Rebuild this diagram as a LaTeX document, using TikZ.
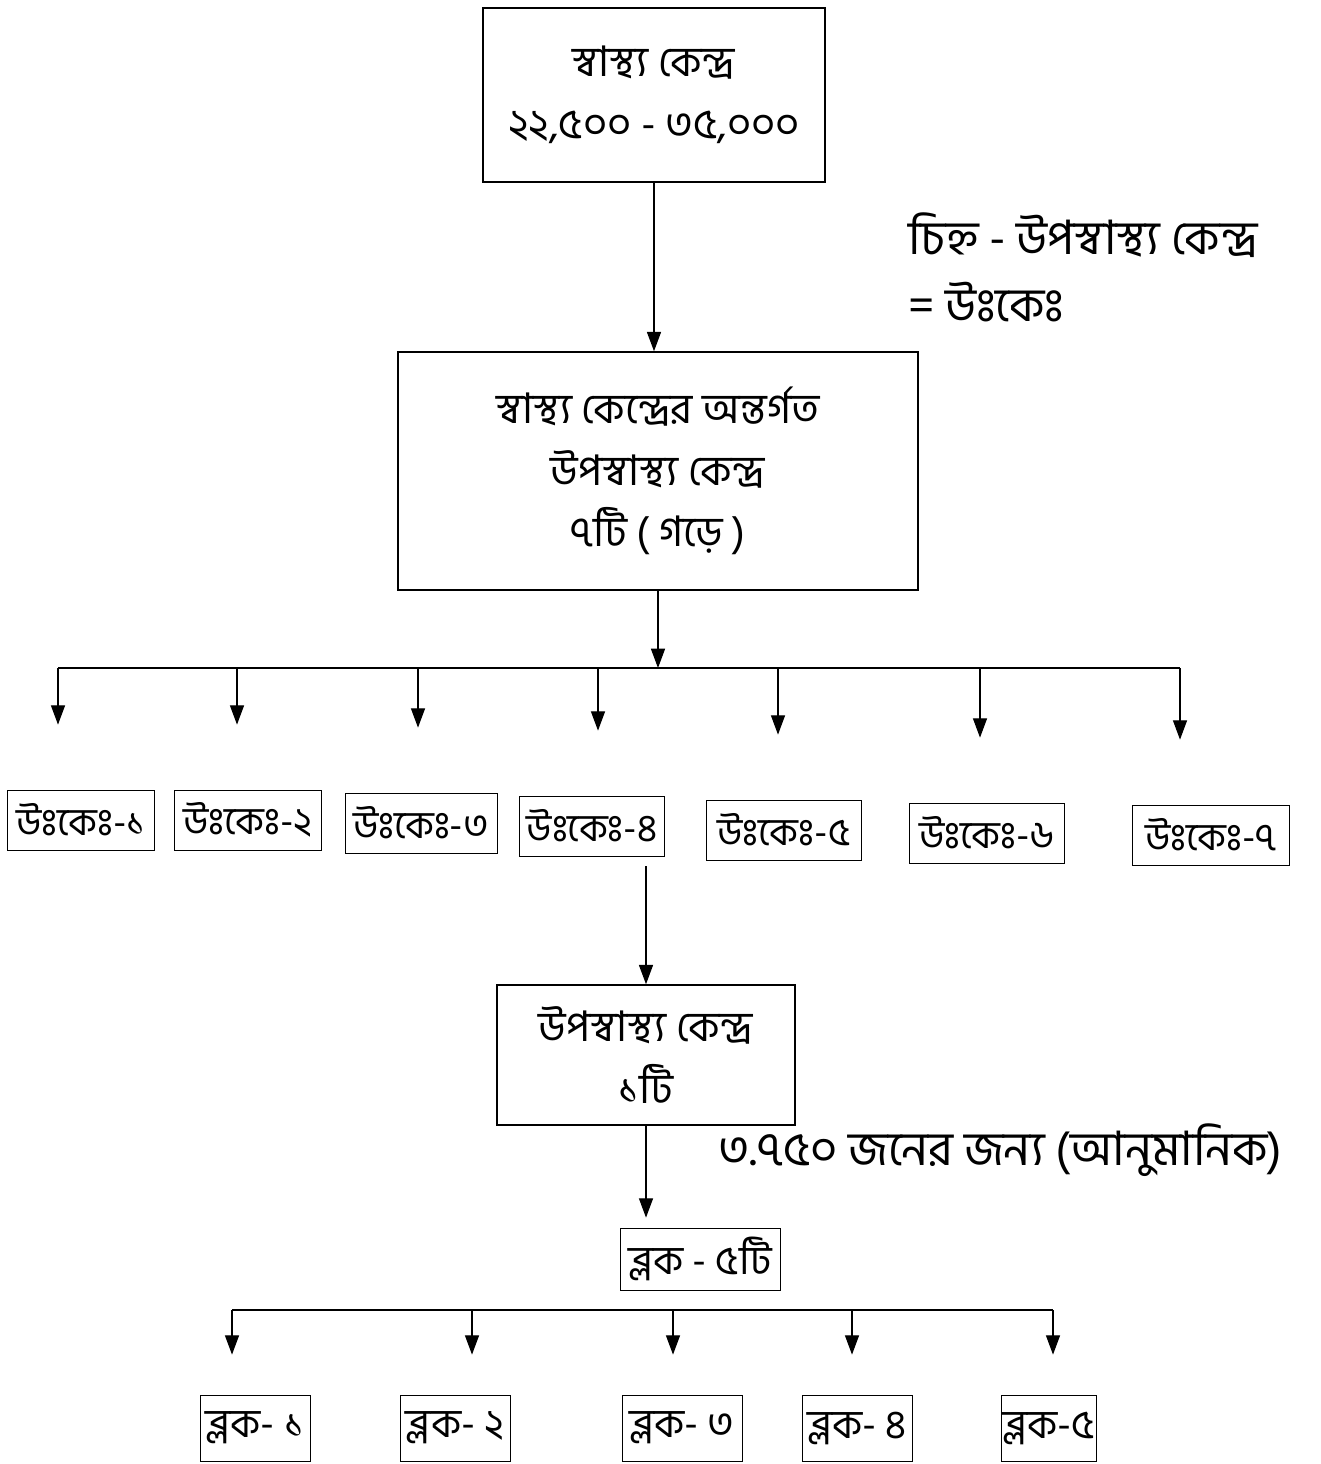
\documentclass[tikz,border=0pt]{standalone}
\usepackage{fontspec}
\newfontfamily\bn[Script=Bengali]{Hind Siliguri}
\usetikzlibrary{arrows.meta,positioning}

\begin{document}
\begin{tikzpicture}[x=0.02cm, y=-0.02cm,
    bigbox/.style={draw, rectangle, line width=0.9pt, align=center, inner sep=0pt, font=\bn\fontsize{24}{35}\selectfont},
    smallbox/.style={draw, rectangle, line width=0.45pt, inner sep=0.5pt, minimum height=1.2cm, font=\bn\fontsize{22}{26}\selectfont},
    blockbox/.style={draw, rectangle, line width=0.45pt, inner sep=0.5pt, minimum height=1.32cm, font=\bn\fontsize{23}{26}\selectfont},
    side/.style={anchor=west, inner sep=0pt, font=\bn\fontsize{27}{30}\selectfont},
    arr/.style={-{Triangle[width=8pt, length=11pt]}, line width=0.7pt}]
    \useasboundingbox (0,0) rectangle (1320,1464);

    \node (centre) at (654, 95) [bigbox, minimum width=6.84cm, minimum height=3.48cm] {স্বাস্থ্য কেন্দ্র \\ ২২,৫০০ - ৩৫,০০০};

    \node (subcentres) at (658, 471) [bigbox, minimum width=10.4cm, minimum height=4.76cm] {স্বাস্থ্য কেন্দ্রের অন্তর্গত \\ উপস্বাস্থ্য কেন্দ্র \\ ৭টি ( গড়ে )};

    \node (legend1) at (908, 235) [side] {চিহ্ন - উপস্বাস্থ্য কেন্দ্র};
    \node (legend2) at (908, 302) [side] {= উঃকেঃ};

    \draw [arr] (centre.south) -- (centre.south |- subcentres.north);

    % first row of sub-centres
    \coordinate (bar) at (658, 668);
    \draw [line width=0.7pt] (58, 668) -- (1180, 668);
    \draw [arr] (subcentres.south) -- (subcentres.south |- bar);

    \foreach \n/\x/\y/\w in {1/81/820/2.94, 2/248/820/2.94, 3/421/823/3.04, 4/592/826/2.9, 5/784/830/3.1, 6/987/833/3.1, 7/1211/835/3.14}
        \node (u\n) at (\x, \y) [smallbox, minimum width=\w cm] {উঃকেঃ-\ifcase\n\or ১\or ২\or ৩\or ৪\or ৫\or ৬\or ৭\fi};

    \foreach \n/\x in {1/58, 2/237, 3/418, 4/598, 5/778, 6/980, 7/1180} {
        \coordinate (drop\n) at (\x, 668);
        \draw [arr, shorten >=1.3cm] (drop\n) -- (drop\n |- u\n.north);
    }

    \node (onecentre) at (646, 1055) [bigbox, minimum width=5.96cm, minimum height=2.8cm] {উপস্বাস্থ্য কেন্দ্র \\ ১টি};
    \draw [arr, shorten <=0.2cm] (onecentre.north |- u4.south) -- (onecentre.north);

    \node (people) at (718, 1150) [side] {৩.৭৫০ জনের জন্য (আনুমানিক)};

    \node (blocks) at (700, 1259) [blockbox, minimum width=3.2cm, minimum height=1.24cm] {ব্লক - ৫টি};
    \draw [arr, shorten >=0.2cm] (onecentre.south) -- (onecentre.south |- blocks.north);

    % second row of blocks
    \draw [line width=0.7pt] (232, 1310) -- (1053, 1310);
    \foreach \n/\x/\w/\t in {1/255/2.2/ব্লক- ১, 2/455/2.2/ব্লক- ২, 3/682/2.4/ব্লক- ৩, 4/857/2.2/ব্লক- ৪, 5/1049/1.84/ব্লক-৫}
        \node (b\n) at (\x, 1428) [blockbox, minimum width=\w cm] {\t};

    \foreach \n/\x in {1/232, 2/472, 3/673, 4/852, 5/1053} {
        \coordinate (tick\n) at (\x, 1310);
        \draw [arr, shorten >=0.8cm] (tick\n) -- (tick\n |- b\n.north);
    }
\end{tikzpicture}
\end{document}
